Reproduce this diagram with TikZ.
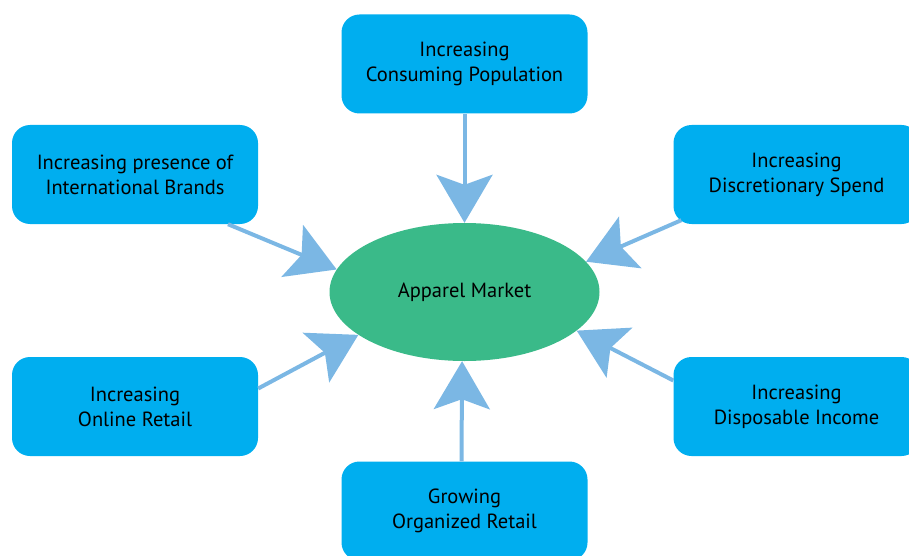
\documentclass[tikz,border=0pt]{standalone}
\usepackage{fontspec}
\setmainfont{PT Sans}
\usetikzlibrary{shapes.geometric,arrows.meta}
\definecolor{boxblue}{HTML}{00AEEF}
\definecolor{marketgreen}{HTML}{3ABA89}
\definecolor{feedblue}{HTML}{7BB7E4}
\begin{document}
\begin{tikzpicture}[x=1pt,y=-1pt,
  driver/.style={rectangle,rounded corners=18pt,fill=boxblue,minimum width=246pt,
    minimum height=99pt,inner sep=0pt,align=center,font=\fontsize{20.5}{25}\selectfont},
  market/.style={ellipse,fill=marketgreen,minimum width=270pt,minimum height=138pt,
    inner sep=0pt,font=\fontsize{20.5}{25}\selectfont},
  feed/.style={draw=feedblue,line width=4pt,
    -{Stealth[length=48pt,width=56pt,inset=10pt,fill=feedblue]}}]
  \clip (0,0) rectangle (909,556);

  \node[market] (apparel) at (464.5,292) {Apparel Market};

  \node[driver] (population) at (464.5,64) {Increasing\\Consuming Population};
  \node[driver] (brands) at (135,174.5) {Increasing presence of\\International Brands};
  \node[driver] (spend) at (796.5,174.5) {Increasing\\Discretionary Spend};
  \node[driver] (online) at (135,406.5) {Increasing\\Online Retail};
  \node[driver] (income) at (796.5,406.5) {Increasing\\Disposable Income};
  \node[driver] (organized) at (464.5,511) {Growing\\Organized Retail};

  \draw[feed] (population.south) -- (apparel.north);
  \draw[feed] ([xshift=93pt]brands.south) -- (apparel.170);
  \draw[feed] ([xshift=8pt,yshift=4pt]spend.south west) -- (apparel.14);
  \draw[feed] ([yshift=18pt]online.east) -- (apparel.202);
  \draw[feed] ([yshift=26pt]income.west) -- (apparel.341);
  \draw[feed] ([xshift=-3pt]organized.north) -- (apparel.268);

\end{tikzpicture}
\end{document}
